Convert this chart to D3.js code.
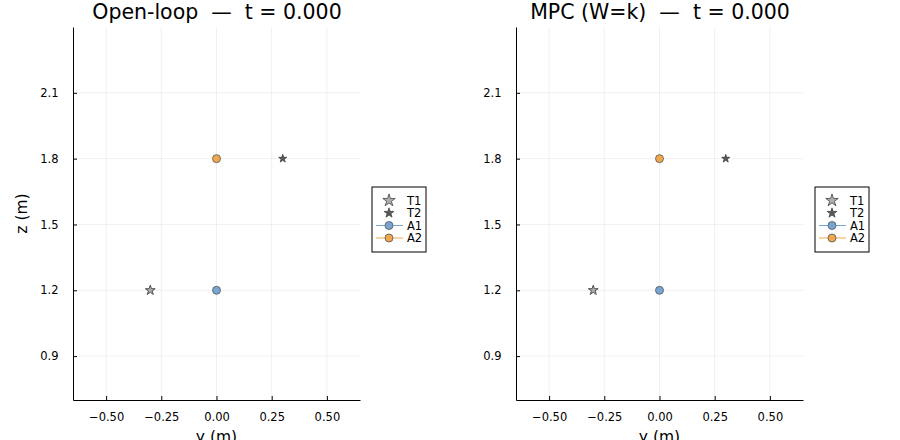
<!DOCTYPE html>
<html>
<head>
<meta charset="utf-8">
<script src="https://cdn.jsdelivr.net/npm/d3@7"></script>
<style>
  body { margin: 0; background: #fff; }
  text { font-family: "DejaVu Sans", sans-serif; white-space: pre; }
</style>
</head>
<body>
<div id="chart"></div>
<script>
// data
var panelTitles = ["Open-loop  \u2014  t = 0.000", "MPC (W=k)  \u2014  t = 0.000"];
var seriesNames = ["T1", "T2", "A1", "A2"];
var seriesY = [-0.3, 0.3, 0.0, 0.0];
var seriesZ = [1.2, 1.8, 1.2, 1.8];
var xTicks = [-0.5, -0.25, 0, 0.25, 0.5];
var yTicks = [0.9, 1.2, 1.5, 1.8, 2.1];

var W = 900, H = 440;
var colors = { T1: "#8c8c8c", T2: "#5a5a5a", A1: "#78a6d3", A2: "#f2a74e" };

var svg = d3.select("#chart").append("svg")
    .attr("width", W).attr("height", H);

var panels = [
    { left: 73, right: 360, title: panelTitles[0], ylabel: true },
    { left: 516, right: 803, title: panelTitles[1], ylabel: false }
];
var plotTop = 27, plotBottom = 400;

panels.forEach(function (p) {
    var x = d3.scaleLinear().domain([-0.65, 0.65]).range([p.left, p.right]);
    var y = d3.scaleLinear().domain([0.7, 2.4]).range([plotBottom, plotTop]);
    var g = svg.append("g");

    // grid
    g.selectAll(".gx").data(xTicks).enter().append("line")
        .attr("x1", d => x(d)).attr("x2", d => x(d))
        .attr("y1", plotTop).attr("y2", plotBottom)
        .attr("stroke", "#000").attr("stroke-opacity", 0.1).attr("stroke-width", 0.6);
    g.selectAll(".gy").data(yTicks).enter().append("line")
        .attr("y1", d => y(d)).attr("y2", d => y(d))
        .attr("x1", p.left).attr("x2", p.right)
        .attr("stroke", "#000").attr("stroke-opacity", 0.1).attr("stroke-width", 0.6);

    // axes (ticks point inward)
    var xa = g.append("g").attr("transform", "translate(0," + plotBottom + ")")
        .call(d3.axisBottom(x).tickValues(xTicks).tickSizeInner(-4).tickSizeOuter(0)
            .tickFormat(d => d3.format(".2f")(d).replace("-", "\u2212")));
    var ya = g.append("g").attr("transform", "translate(" + p.left + ",0)")
        .call(d3.axisLeft(y).tickValues(yTicks).tickSizeInner(-4).tickSizeOuter(0)
            .tickFormat(d3.format(".1f")));
    [xa, ya].forEach(function (a) {
        a.select(".domain").attr("stroke", "#000").attr("stroke-width", 1);
        a.selectAll(".tick line").attr("stroke", "#000");
        a.selectAll(".tick text").attr("font-family", "DejaVu Sans").attr("font-size", 11.5).attr("fill", "#000");
    });
    xa.selectAll(".tick text").attr("dy", "1.55em");
    ya.selectAll(".tick text").attr("dx", "-1em");

    // title and labels
    g.append("text").attr("x", (p.left + p.right) / 2 + 0.5).attr("y", 19)
        .attr("text-anchor", "middle").attr("font-size", 20.5).text(p.title);
    g.append("text").attr("x", (p.left + p.right) / 2).attr("y", 442)
        .attr("text-anchor", "middle").attr("font-size", 15.5).text("y (m)");
    if (p.ylabel) {
        g.append("text").attr("transform", "translate(27," + ((plotTop + plotBottom) / 2) + ") rotate(-90)")
            .attr("text-anchor", "middle").attr("font-size", 15.5).text("z (m)");
    }

    // marks
    var star = d3.symbol().type(d3.symbolStar);
    seriesNames.forEach(function (name, i) {
        var cx = x(seriesY[i]), cy = y(seriesZ[i]);
        if (name[0] === "T") {
            g.append("path")
                .attr("transform", "translate(" + cx + "," + cy + ")")
                .attr("d", star.size(name === "T1" ? 30 : 20)())
                .attr("fill", colors[name]).attr("fill-opacity", name === "T1" ? 0.7 : 1)
                .attr("stroke", "#444").attr("stroke-width", 0.9);
        } else {
            g.append("circle").attr("cx", cx).attr("cy", cy).attr("r", 4)
                .attr("fill", colors[name]).attr("stroke", "#555").attr("stroke-width", 0.8);
        }
    });

    // legend
    var lx = p.right + 12, ly = 187, lw = 54, lh = 65;
    var leg = g.append("g").attr("transform", "translate(" + lx + "," + ly + ")");
    leg.append("rect").attr("width", lw).attr("height", lh)
        .attr("fill", "#fff").attr("stroke", "#000").attr("stroke-width", 1);
    seriesNames.forEach(function (name, i) {
        var ry = 13.5 + i * 12.5;
        if (name[0] === "A") {
            leg.append("line").attr("x1", 4).attr("x2", 31).attr("y1", ry).attr("y2", ry)
                .attr("stroke", colors[name]).attr("stroke-width", 1);
            leg.append("circle").attr("cx", 17).attr("cy", ry).attr("r", 4)
                .attr("fill", colors[name]).attr("stroke", "#555").attr("stroke-width", 0.8);
        } else {
            leg.append("path").attr("transform", "translate(17," + ry + ")")
                .attr("d", star.size(name === "T1" ? 48 : 30)())
                .attr("fill", colors[name]).attr("fill-opacity", name === "T1" ? 0.7 : 1)
                .attr("stroke", "#444").attr("stroke-width", 0.8);
        }
        leg.append("text").attr("x", 35).attr("y", ry + 4).attr("font-size", 11.5).text(name);
    });
});
</script>
</body>
</html>
